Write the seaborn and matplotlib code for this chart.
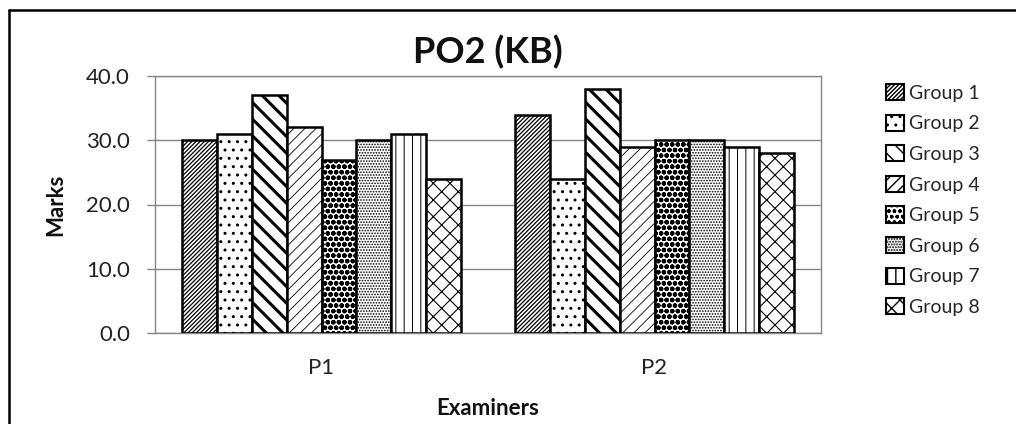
import matplotlib
matplotlib.use("Agg")
import matplotlib.pyplot as plt
import matplotlib.patches as mpatches
from matplotlib.lines import Line2D
import seaborn as sns
import pandas as pd

examiners = ["P1", "P2"]
groups = ["Group 1", "Group 2", "Group 3", "Group 4",
          "Group 5", "Group 6", "Group 7", "Group 8"]
p1_marks = [30, 31, 37, 32, 27, 30, 31, 24]
p2_marks = [34, 24, 38, 29, 30, 30, 29, 28]
y_ticks = [0, 10, 20, 30, 40]
hatches = ["////////", "..", "\\\\", "///", "ooo", "......", "||", "xx"]
hatch_widths = [0.9, 1.0, 2.2, 0.6, 1.6, 0.8, 0.7, 0.8]

rows = []
for g, a, b in zip(groups, p1_marks, p2_marks):
    rows.append({"Examiners": "P1", "Group": g, "Marks": a})
    rows.append({"Examiners": "P2", "Group": g, "Marks": b})
df = pd.DataFrame(rows)

sns.set_theme(style="white")
plt.rcParams["font.family"] = ["Lato", "DejaVu Sans"]
plt.rcParams["hatch.linewidth"] = 1.0
plt.rcParams["hatch.color"] = "black"

W, H = 1016, 424
fig = plt.figure(figsize=(W / 100, H / 100), dpi=100)
ax = fig.add_axes([155 / W, (H - 333) / H, (821 - 155) / W, (333 - 76) / H])

sns.barplot(data=df, x="Examiners", y="Marks", hue="Group", order=examiners,
            hue_order=groups, palette=["white"] * len(groups), width=0.84,
            edgecolor="black", linewidth=1.8, legend=False, ax=ax, zorder=3)


def style_patch(p, h, lw):
    p.set_hatch(h)
    p.set_edgecolor("black")
    if hasattr(p, "set_hatch_linewidth"):
        p.set_hatch_linewidth(lw)


for cont, h, lw in zip(ax.containers, hatches, hatch_widths):
    for bar in cont:
        style_patch(bar, h, lw)

ax.set_ylim(0, 40)
ax.set_yticks(y_ticks)
ax.set_yticklabels([f"{v:.1f}" for v in y_ticks])
ax.set_xlim(-0.5, 1.5)
ax.yaxis.grid(True, color="#868686", linewidth=1.0, zorder=0)
ax.set_axisbelow(True)
for s in ax.spines.values():
    s.set_color("#868686")
    s.set_linewidth(1.0)
ax.tick_params(axis="y", length=6, width=1.0, color="#868686", pad=12,
               labelsize=16, labelcolor="#222222", left=True)
ax.tick_params(axis="x", length=0, pad=18, labelsize=16, labelcolor="#222222")

ax.set_xlabel("Examiners", fontsize=16, fontweight="bold", color="#111111")
ax.set_ylabel("Marks", fontsize=16, fontweight="bold", color="#111111")
ax.xaxis.set_label_coords(0.5, -0.253)
ax.yaxis.set_label_coords(-0.1336, 0.5)

fig.text(0.5 * (155 + 821) / W, 1 - 63 / H, "PO2 (KB)", ha="center",
         va="baseline", fontsize=26, fontweight="bold", color="#111111")

handles = []
for g, h, lw in zip(groups, hatches, hatch_widths):
    p = mpatches.Patch(facecolor="white", edgecolor="black", linewidth=1.5, label=g)
    style_patch(p, h, lw)
    handles.append(p)
fig.legend(handles=handles, loc="upper left",
           bbox_to_anchor=(886 / W, 1 - 84 / H), frameon=False,
           fontsize=14, handlelength=0.9, handleheight=0.9,
           handletextpad=0.3, labelspacing=0.66, borderpad=0, borderaxespad=0)

# outer chart border (left and top edges visible)
fig.add_artist(Line2D([8.5 / W, 8.5 / W], [0, 1 - 10 / H], transform=fig.transFigure,
                      color="black", linewidth=1.8))
fig.add_artist(Line2D([8.5 / W, 1], [1 - 10 / H, 1 - 10 / H], transform=fig.transFigure,
                      color="black", linewidth=1.8))

fig.savefig("out.png", dpi=100, facecolor="white")
